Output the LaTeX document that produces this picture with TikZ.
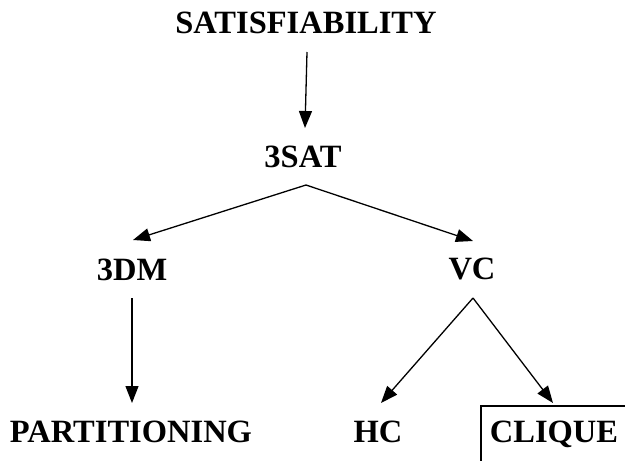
\documentclass[tikz,border=0pt]{standalone}
\usepackage{fontspec}
\setmainfont{Liberation Serif}
\usetikzlibrary{arrows.meta}
\begin{document}
\begin{tikzpicture}[x=1pt,y=-1pt,
  prob/.style={anchor=base,inner sep=0pt,font=\fontsize{32.5}{39}\bfseries\selectfont},
  arr/.style={line width=1.3pt,-{Triangle[length=17pt,width=13pt]}}]
\useasboundingbox (0,0) rectangle (625,461);

% problem names
\node[prob] (sat)    at (306,33)  {SATISFIABILITY};
\node[prob] (tsat)   at (303,167) {3SAT};
\node[prob] (tdm)    at (132,280) {3DM};
\node[prob] (vc)     at (472,279) {VC};
\node[prob] (part)   at (131,442) {PARTITIONING};
\node[prob] (hc)     at (378,442) {HC};
\node[prob] (clique) at (554,442) {CLIQUE};

% reductions
\draw[arr] ([shift={(1,19)}]sat.base) -- ([shift={(2,-39)}]tsat.base);
\coordinate (tsatapex) at ([shift={(3,18)}]tsat.base);
\draw[arr] (tsatapex) -- ([shift={(1,-40)}]tdm.base);
\draw[arr] (tsatapex) -- ([shift={(1,-38)}]vc.base);
\draw[arr] ([shift={(0,18)}]tdm.base) -- ([shift={(1,-39)}]part.base);
\coordinate (vcapex) at ([shift={(1,19)}]vc.base);
\draw[arr] (vcapex) -- ([shift={(3,-39)}]hc.base);
\draw[arr] (vcapex) -- ([shift={(-1,-39)}]clique.base);

% frame corner around CLIQUE
\draw[line width=2pt] (481,461) -- (481,406) -- (625,406);
\end{tikzpicture}
\end{document}
